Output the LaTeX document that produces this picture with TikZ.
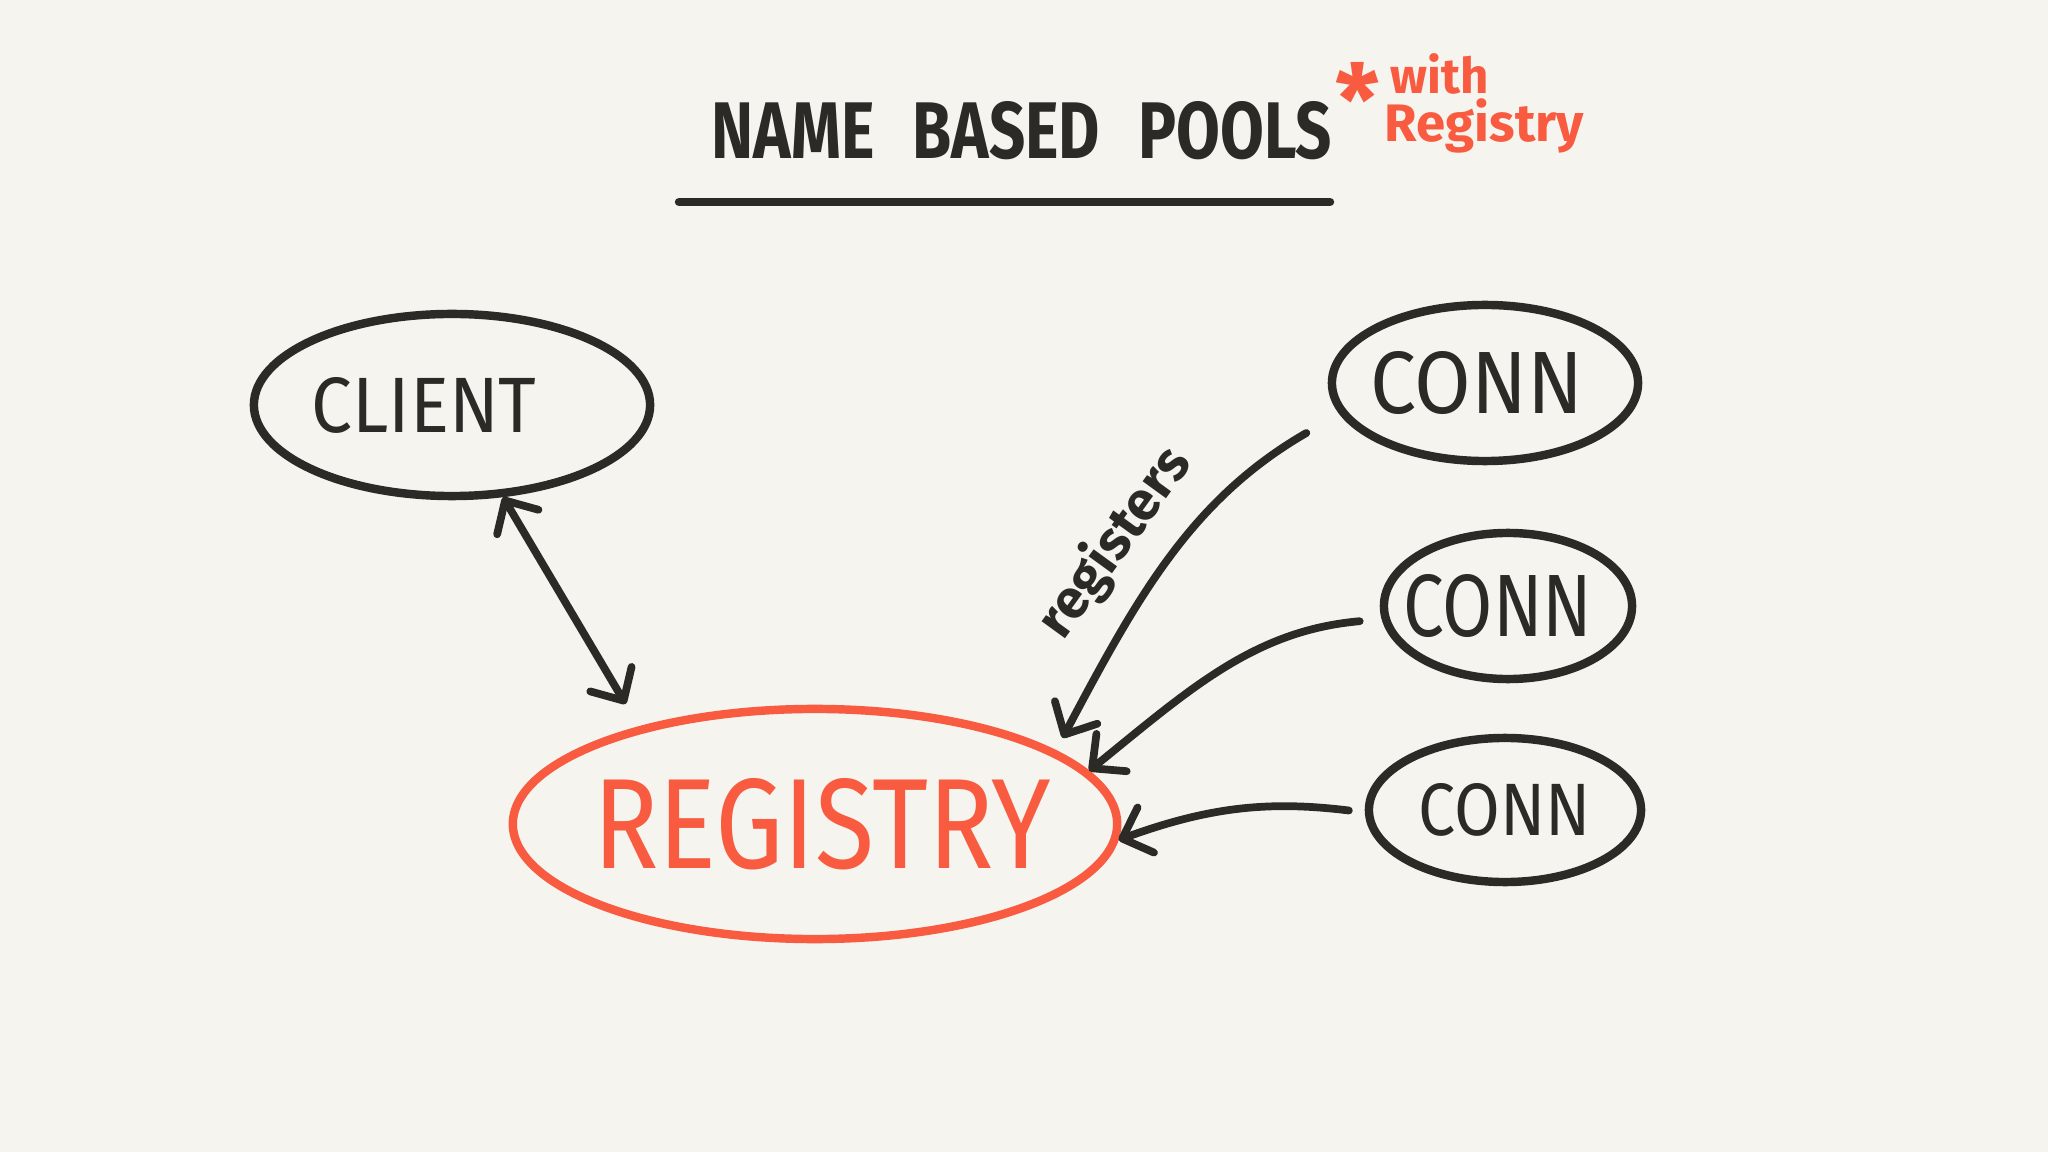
\documentclass[tikz,border=0pt]{standalone}
\usepackage{fontspec}
\setmainfont{Fira Sans}
\usetikzlibrary{shapes.geometric,arrows.meta}
\definecolor{ink}{HTML}{2B2A27}
\definecolor{redink}{HTML}{F85B3F}
\definecolor{paper}{HTML}{F5F4EF}
\newcommand{\handtxt}[4]{\makebox[0pt]{\hspace{#1}\resizebox{#2}{#3}{#4}}}
\begin{document}
\begin{tikzpicture}[x=0.01cm,y=-0.01cm,
  bubble/.style={ellipse, draw=ink, line width=2.4pt, inner sep=0pt, text=ink},
  link/.style={draw=ink, line width=2.2pt, line cap=round, line join=round},
  >={Straight Barb[length=2.5mm,width=4.8mm,round]}]
\fill[paper] (0,0) rectangle (2048,1152);
\useasboundingbox (0,0) rectangle (2048,1152);

% title
\node[text=ink, font=\bfseries, inner sep=0pt] (title) at (1022,131)
  {\resizebox{6.2cm}{0.57cm}{NAME\hspace{0.6em}BASED\hspace{0.6em}POOLS}};
\draw[ink, line width=2.4pt, line cap=round] (679,202) -- (1330,202);
\node[text=redink, font=\bfseries\fontsize{28}{28}\selectfont, inner sep=0pt, anchor=north] (star) at (1358,62) {*};
\node[text=redink, font=\bfseries\fontsize{14}{14}\selectfont, inner sep=0pt, anchor=base west] (with) at (1390,94) {with};
\node[text=redink, font=\bfseries\fontsize{15}{15}\selectfont, inner sep=0pt, anchor=base west] (reg) at (1384,142) {Registry};

% nodes
\node[bubble, minimum width=3.96cm, minimum height=1.82cm] (client) at (452,405)
  {\handtxt{-0.56cm}{2.25cm}{0.55cm}{CLIENT}};
\node[bubble, draw=redink, text=redink, minimum width=6.04cm, minimum height=2.30cm] (registry) at (815,824)
  {\handtxt{0.14cm}{4.57cm}{0.9cm}{REGISTRY}};
\node[bubble, minimum width=3.06cm, minimum height=1.56cm] (conn1) at (1485,383)
  {\handtxt{-0.16cm}{2.13cm}{0.62cm}{CONN}};
\node[bubble, minimum width=2.48cm, minimum height=1.46cm] (conn2) at (1508,606)
  {\handtxt{-0.2cm}{1.89cm}{0.62cm}{CONN}};
\node[bubble, minimum width=2.72cm, minimum height=1.44cm] (conn3) at (1505,810)
  {\handtxt{0cm}{1.72cm}{0.52cm}{CONN}};

% connectors
\draw[link, <->, shorten >=0.26cm] (client.-61) -- (registry.151);
\draw[link, ->, shorten <=0.38cm, shorten >=0.14cm] (conn1.192) to[out=210,in=62] (registry.17);
\draw[link, ->, shorten <=0.22cm] (conn2.186) to[out=185,in=39] (registry.11);
\draw[link, ->, shorten <=0.16cm] (conn3.181) to[out=173,in=20] (registry.-3);

\node[text=ink, font=\bfseries\fontsize{15.5}{15.5}\selectfont, rotate=54, inner sep=1pt] (regs) at (1115,543) {registers};
\end{tikzpicture}
\end{document}
